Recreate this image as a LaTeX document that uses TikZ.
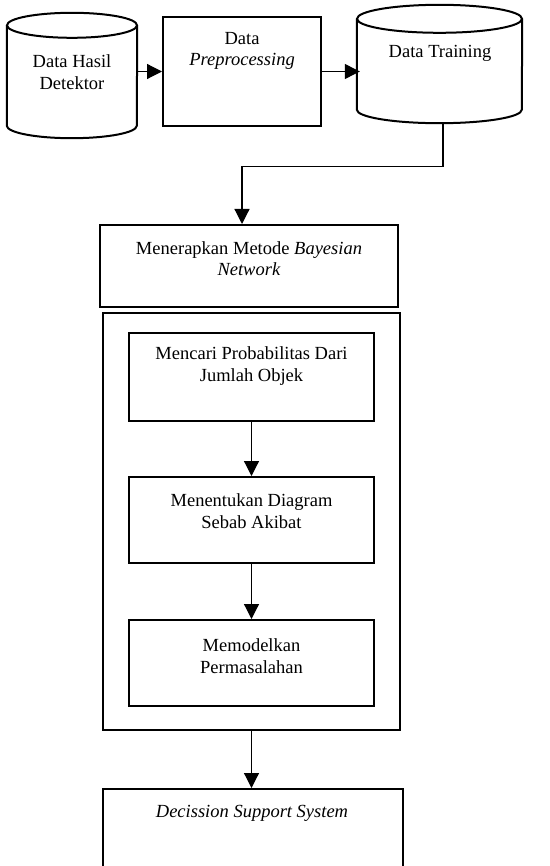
\documentclass[tikz,border=0pt]{standalone}
\usepackage{fontspec}
\setmainfont{Liberation Serif}
\usetikzlibrary{arrows.meta,positioning}
\begin{document}
\begin{tikzpicture}[x=1pt,y=-1pt,line join=miter,
	box/.style={draw,line width=2pt,rectangle,inner sep=0pt},
	db/.style={rectangle,inner sep=0pt},
	garis/.style={line width=2pt},
	txt/.style={align=center,inner sep=0pt,font=\fontsize{18.5}{21.5}\selectfont},
	arr/.style={line width=1.2pt,-{Triangle[length=15pt,width=15pt]}}]
	\path[use as bounding box,clip] (0,0) rectangle (549,866);
	\node[db,minimum width=130,minimum height=125] (detektor) at (72,75.5) {};
	\node[box,minimum width=158,minimum height=109] (prepro) at (242,71.5) {};
	\node[db,minimum width=165,minimum height=118] (training) at (439.5,64) {};
	\node[box,minimum width=298,minimum height=82] (bayes) at (249,266) {};
	\node[box,minimum width=297,minimum height=417] (wadah) at (251.5,521.5) {};
	\node[box,minimum width=245,minimum height=88] (proba) at (251.5,377) {};
	\node[box,minimum width=245,minimum height=86] (sebab) at (251.5,520) {};
	\node[box,minimum width=245,minimum height=86] (model) at (251.5,663) {};
	\node[box,minimum width=300,minimum height=160] (dss) at (253,869) {};
	\draw[garis] ([yshift=-12.5]detektor.north west) -- ([yshift=12.5]detektor.south west)
		arc (180:0:65 and 12.5) -- ([yshift=-12.5]detektor.north east);
	\draw[garis] ([yshift=-12.5]detektor.north) ellipse (65 and 12.5);
	\draw[garis] ([yshift=-14]training.north west) -- ([yshift=13.5]training.south west)
		arc (180:0:82.5 and 13.5) -- ([yshift=-14]training.north east);
	\draw[garis] ([yshift=-14]training.north) ellipse (82.5 and 14);
	\path
	(72,72) node[txt] (t-detektor) {Data Hasil\\Detektor}
	(242,51) node[txt] (t-prepro) {Data\\\textit{Preprocessing}}
	(440,53) node[txt] (t-training) {Data Training}
	(249,258.5) node[txt] (t-bayes) {Menerapkan Metode \textit{Bayesian}\\\textit{Network}}
	(251.5,366) node[txt] (t-proba) {Mencari Probabilitas Dari\\Jumlah Objek}
	(251.5,511) node[txt] (t-sebab) {Menentukan Diagram\\Sebab Akibat}
	(251.5,656) node[txt] (t-model) {Memodelkan\\Permasalahan}
	(252,813) node[txt] (t-dss) {\textit{Decission Support System}}
	;
	\draw[arr] (detektor.east |- prepro.west) -- (prepro.west);
	\draw[arr] (prepro.east) -- ([xshift=3]prepro.east -| training.west);
	\draw[arr] ([xshift=3.5]training.south) -- ++(0,43) -| ([xshift=-7]bayes.north);
	\draw[arr] (proba.south) -- (sebab.north);
	\draw[arr] (sebab.south) -- (model.north);
	\draw[arr] (wadah.south) -- (wadah.south |- dss.north);
\end{tikzpicture}
\end{document}
